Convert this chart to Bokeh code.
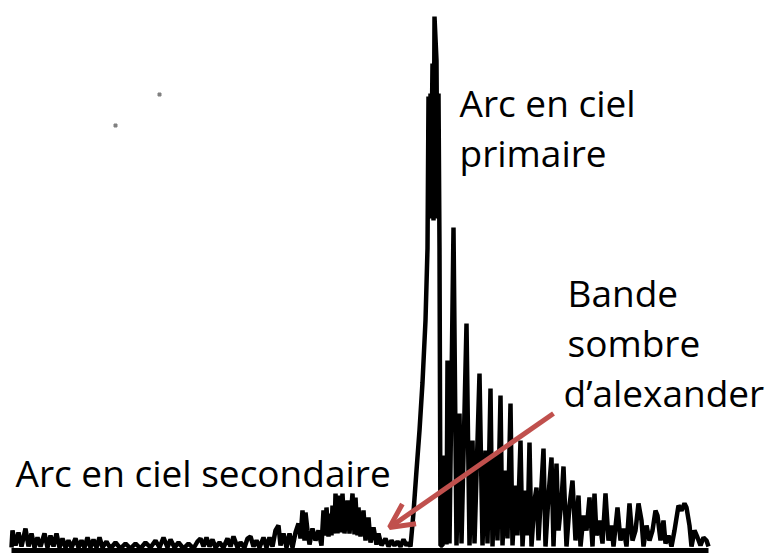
from bokeh.plotting import figure
from bokeh.models import Range1d, Arrow, OpenHead
from bokeh.core.properties import value
from bokeh.embed import file_html
from bokeh.resources import INLINE

# scattering angle (arbitrary units) and measured intensity (arbitrary units)
angle = [
    11, 12, 15, 18, 21, 25, 28, 31, 34, 37, 40, 44, 47, 50, 53, 56, 59, 62, 65, 68,
    71, 75, 78, 81, 84, 87, 90, 93, 96, 99, 102, 106, 110, 115, 120, 125, 130, 135, 140, 145,
    150, 155, 159, 163, 167, 170, 174, 178, 183, 188, 193, 197, 200, 203, 206, 209, 212, 215, 219, 223,
    227, 230, 233, 237, 240, 244, 247, 250, 253, 256, 259, 263, 266, 269, 272, 275, 278, 280, 283, 286,
    289, 292, 295, 298, 300, 302, 304, 305, 307, 309, 312, 315, 318, 321, 323, 325, 326, 328, 330, 331,
    332, 334, 335, 337, 338, 340, 342, 344, 347, 349, 352, 354, 355, 357, 358, 360, 363, 365, 368, 370,
    373, 376, 378, 381, 385, 388, 391, 394, 397, 400, 403, 406, 408,
    410, 413, 416, 419, 422, 425, 427, 428, 429, 430, 431, 432, 433, 434, 436, 437, 438, 439, 440,
    442, 444, 446, 447, 449, 453, 456, 459, 461, 466, 469, 472, 474, 479, 482, 485, 487, 490, 492, 495,
    497, 500, 502, 505, 507, 510, 512, 515, 517, 520, 522, 525, 527, 529, 531, 534, 536, 538, 543, 545,
    548, 551, 553, 556, 558, 561, 563, 566, 569, 572, 575, 578, 580, 583, 586, 589, 592, 594, 596, 599,
    602, 605, 608, 611, 613, 617, 620, 623, 626, 629, 632, 635, 638, 641, 643, 646, 649, 652, 655, 657,
    660, 663, 665, 668, 671, 674, 678, 681, 684, 686, 689, 691, 694, 697, 700, 703, 706, 708,
]
intensity = [
    1, 18, 3, 16, 2, 20, 2, 15, 1, 11, 2, 15, 1, 13, 2, 15, 1, 10, 1, 8,
    1, 10, 1, 8, 1, 11, 1, 9, 1, 11, 1, 7, 0, 6, 0, 5, 0, 5, 0, 6,
    1, 8, 1, 11, 1, 9, 1, 6, 0, 5, 0, 7, 10, 2, 11, 2, 9, 1, 6, 1,
    10, 2, 12, 1, 6, 1, 10, 12, 2, 8, 1, 11, 1, 11, 2, 18, 23, 3, 15, 1,
    15, 1, 16, 25, 10, 38, 8, 36, 18, 4, 20, 8, 18, 3, 38, 13, 41, 12, 35, 13,
    43, 15, 55, 15, 53, 16, 55, 15, 48, 15, 55, 14, 51, 13, 41, 12, 38, 8, 31, 6,
    21, 4, 15, 3, 10, 2, 8, 3, 7, 2, 9, 3, 6,
    2, 36, 78, 118, 166, 228, 300, 452, 330, 455, 398, 485, 328, 532, 488, 330, 455, 300, 3,
    3, 93, 4, 188, 5, 321, 3, 135, 5, 225, 3, 108, 5, 175, 3, 98, 5, 160, 2, 93,
    8, 153, 3, 78, 10, 145, 3, 63, 13, 108, 2, 58, 13, 106, 2, 48, 61, 8, 100, 2,
    53, 91, 2, 85, 18, 48, 82, 2, 43, 68, 8, 53, 2, 33, 18, 51, 2, 55, 13, 28,
    5, 55, 8, 23, 2, 41, 8, 20, 2, 45, 8, 18, 45, 28, 2, 23, 8, 18, 38, 33,
    8, 28, 5, 13, 2, 18, 43, 38, 45, 41, 23, 2, 18, 11, 3, 11, 8, 2,
]

base_x = [11, 708]
base_y = [-2, -2]

label_x = [459, 459, 567, 567, 563, 15]
label_y = [446, 396, 256, 206, 156, 76]
label_text = ["Arc en ciel", "primaire", "Bande", "sombre", "d\u2019alexander",
              "Arc en ciel secondaire"]

speck_x = [159, 115]
speck_y = [454, 423]

p = figure(width=770, height=554, x_range=Range1d(0, 770), y_range=Range1d(-6, 548),
           output_backend="svg", toolbar_location=None, min_border=0,
           x_axis_type=None, y_axis_type=None)
p.grid.visible = False
p.outline_line_color = None
p.background_fill_color = "white"
p.border_fill_color = "white"

p.line(base_x, base_y, line_color="black", line_width=5)
p.line(angle, intensity, line_color="black", line_width=4.5)

p.scatter(speck_x, speck_y, marker="square", size=3, color="#808080")

p.text(x=label_x, y=label_y, text=label_text, text_font=value("Open Sans"),
       text_font_size="37px", text_baseline="alphabetic", text_align="left",
       text_color="black")

p.add_layout(Arrow(end=OpenHead(size=24, line_color="#C0504D", line_width=5),
                   x_start=553, y_start=135, x_end=389, y_end=21,
                   line_color="#C0504D", line_width=5))

open("out.html", "w").write(file_html(p, INLINE))
